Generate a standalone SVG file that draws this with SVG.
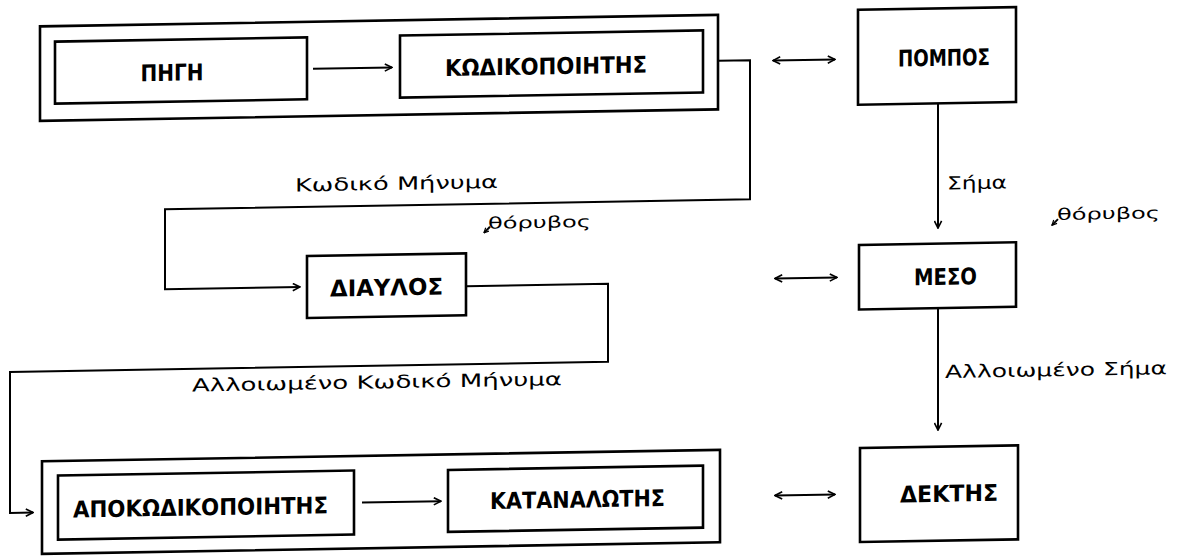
<svg xmlns="http://www.w3.org/2000/svg" width="1184" height="558" viewBox="0 0 1184 558">
<style>
.box{fill:none;stroke:#000;stroke-width:2.6}
.con{fill:none;stroke:#000;stroke-width:2}
.cap{font-family:"DejaVu Sans","Liberation Sans",sans-serif;font-weight:bold;font-size:23px;text-anchor:middle;fill:#000}
.lab{font-family:"DejaVu Sans","Liberation Sans",sans-serif;font-size:18px;fill:#000}
.noise{font-family:"DejaVu Sans","Liberation Sans",sans-serif;font-size:16px;fill:#000}
</style>
<defs>
<marker id="ah" viewBox="0 0 10 10" refX="9" refY="5" markerWidth="9" markerHeight="9" markerUnits="userSpaceOnUse" orient="auto-start-reverse">
<path d="M1,1 L9,5 L1,9" fill="none" stroke="#000" stroke-width="1.8"/>
</marker>
<marker id="ahs" viewBox="0 0 10 10" refX="9" refY="5" markerWidth="6" markerHeight="6" markerUnits="userSpaceOnUse" orient="auto">
<path d="M1,1 L9,5 L1,9" fill="none" stroke="#000" stroke-width="2"/>
</marker>
</defs>
<rect width="1184" height="558" fill="#fff"/>
<g transform="translate(0 10.06) skewY(-0.974)">
<g id="sender-group">
<rect class="box" x="40" y="17" width="678" height="94.5"/>
</g>
<g id="pigi">
<rect class="box" x="55" y="32.5" width="252" height="62"/>
<text class="cap" x="172" y="73.5" textLength="63" lengthAdjust="spacingAndGlyphs">ΠΗΓΗ</text>
</g>
<g id="kodikopoiitis">
<rect class="box" x="400" y="32.3" width="303" height="62"/>
<text class="cap" x="546" y="73.5" textLength="202" lengthAdjust="spacingAndGlyphs">ΚΩΔΙΚΟΠΟΙΗΤΗΣ</text>
</g>
<g id="pompos">
<rect class="box" x="858" y="14.3" width="158" height="95"/>
<text class="cap" x="944" y="71.7" textLength="92" lengthAdjust="spacingAndGlyphs">ΠΟΜΠΟΣ</text>
</g>
<g id="diavlos">
<rect class="box" x="307" y="251.2" width="159" height="62"/>
<text class="cap" x="386.5" y="292" textLength="113" lengthAdjust="spacingAndGlyphs">ΔΙΑΥΛΟΣ</text>
</g>
<g id="meso">
<rect class="box" x="859" y="249.5" width="157" height="64.5"/>
<text class="cap" x="945.5" y="290.7" textLength="63" lengthAdjust="spacingAndGlyphs">ΜΕΣΟ</text>
</g>
<g id="receiver-group">
<rect class="box" x="42" y="452" width="678" height="92.5"/>
</g>
<g id="apokodikopoiitis">
<rect class="box" x="58" y="466.5" width="296" height="64"/>
<text class="cap" x="200.5" y="508.7" textLength="255" lengthAdjust="spacingAndGlyphs">ΑΠΟΚΩΔΙΚΟΠΟΙΗΤΗΣ</text>
</g>
<g id="katanalotis">
<rect class="box" x="448" y="467.5" width="255" height="62"/>
<text class="cap" x="577.5" y="507.3" textLength="175" lengthAdjust="spacingAndGlyphs">ΚΑΤΑΝΑΛΩΤΗΣ</text>
</g>
<g id="dektis">
<rect class="box" x="860" y="452.6" width="158" height="94"/>
<text class="cap" x="949" y="507.7" textLength="98" lengthAdjust="spacingAndGlyphs">ΔΕΚΤΗΣ</text>
</g>
<g id="connectors">
<line class="con" x1="313" y1="64" x2="392" y2="64" marker-end="url(#ah)"/>
<polyline class="con" points="718,63 750,63 750,202 165,202 165,282 300,282" marker-end="url(#ah)"/>
<polyline class="con" points="466,284 608,284 608,362 10,362 10,503 33,503" marker-end="url(#ah)"/>
<line class="con" x1="362" y1="498.6" x2="441" y2="498.6" marker-end="url(#ah)"/>
<line class="con" x1="773" y1="63.6" x2="835" y2="63.6" marker-start="url(#ah)" marker-end="url(#ah)"/>
<line class="con" x1="775" y1="281.6" x2="837" y2="281.6" marker-start="url(#ah)" marker-end="url(#ah)"/>
<line class="con" x1="775" y1="498.6" x2="835" y2="498.6" marker-start="url(#ah)" marker-end="url(#ah)"/>
<line class="con" x1="938" y1="109.5" x2="938" y2="234" marker-end="url(#ah)"/>
<line class="con" x1="938" y1="314" x2="938" y2="436" marker-end="url(#ah)"/>
<line class="con" x1="490" y1="225" x2="484" y2="231" marker-end="url(#ahs)"/>
<line class="con" x1="1058" y1="227" x2="1052" y2="233" marker-end="url(#ahs)"/>
</g>
<g id="labels">
<text class="lab" x="295" y="186.4" textLength="203" lengthAdjust="spacingAndGlyphs">Κωδικό Μήνυμα</text>
<text class="noise" x="488" y="227" textLength="103" lengthAdjust="spacingAndGlyphs">θόρυβος</text>
<text class="lab" x="947" y="195.5" textLength="60" lengthAdjust="spacingAndGlyphs">Σήμα</text>
<text class="noise" x="1057" y="227.8" textLength="103" lengthAdjust="spacingAndGlyphs">θόρυβος</text>
<text class="lab" x="192" y="384.7" textLength="370" lengthAdjust="spacingAndGlyphs">Αλλοιωμένο Κωδικό Μήνυμα</text>
<text class="lab" x="945" y="384" textLength="222" lengthAdjust="spacingAndGlyphs">Αλλοιωμένο Σήμα</text>
</g>
</g>
</svg>
